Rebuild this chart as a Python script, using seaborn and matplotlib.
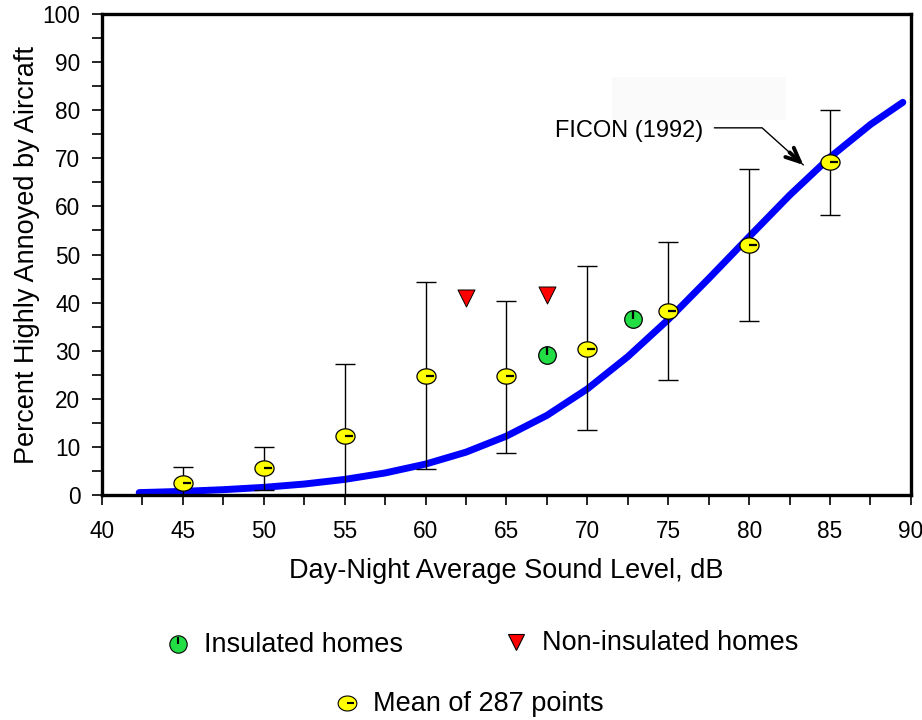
import numpy as np
import pandas as pd
import matplotlib
matplotlib.use('Agg')
import matplotlib.pyplot as plt
import seaborn as sns
from matplotlib.patches import Rectangle
from matplotlib.path import Path

sns.set_style('white')
plt.rcParams['font.family'] = ['Liberation Sans', 'DejaVu Sans']
plt.rcParams.update({'text.color': 'black', 'axes.labelcolor': 'black',
                     'xtick.color': 'black', 'ytick.color': 'black'})

# mean of 287 points, with error bars
mean_ldn = [45, 50, 55, 60, 65, 70, 75, 80, 85]
mean_pct = [2.5, 5.6, 12.3, 24.7, 24.7, 30.4, 38.2, 52.0, 69.3]
err_low = [0.0, 1.2, 0.0, 5.5, 8.7, 13.6, 24.0, 36.2, 58.3]
err_high = [5.9, 10.0, 27.3, 44.3, 40.3, 47.6, 52.5, 67.8, 80.0]

# insulated / non-insulated homes
ins_ldn = [67.5, 72.8]
ins_pct = [29.2, 36.6]
non_ldn = [62.5, 67.5]
non_pct = [41.0, 41.5]

# FICON (1992) curve
ficon_ldn = [42.3, 45, 47.5, 50, 52.5, 55, 57.5, 60, 62.5, 65, 67.5, 70,
             72.5, 75, 77.5, 80, 82.5, 85, 87.5, 89.5]
ficon_pct = [0.57, 0.83, 1.18, 1.66, 2.35, 3.31, 4.65, 6.49, 8.97, 12.3, 16.6,
             22.1, 28.8, 36.5, 45.0, 53.7, 62.3, 70.2, 77.0, 81.6]

curve = pd.DataFrame({'ldn': ficon_ldn, 'pct': ficon_pct})
means = pd.DataFrame({'ldn': mean_ldn, 'pct': mean_pct})

# slightly flattened circle, like the original symbols
t = np.linspace(0, 2 * np.pi, 41)
oval = Path(np.column_stack([np.cos(t), 0.8 * np.sin(t)]), closed=True)

fig = plt.figure(figsize=(9.22, 7.2), dpi=100)
ax = fig.add_axes([0.1106, 0.312, 0.8774, 0.669])

# faint box behind the label
ax.add_patch(Rectangle((71.5, 78.0), 10.8, 8.9, color='#fafafa', zorder=0, lw=0))

sns.lineplot(data=curve, x='ldn', y='pct', ax=ax, color='#0000ff', lw=5,
             zorder=2, legend=False)

yerr = [np.array(mean_pct) - np.array(err_low), np.array(err_high) - np.array(mean_pct)]
ax.errorbar(mean_ldn, mean_pct, yerr=yerr, fmt='none', ecolor='black',
            elinewidth=1.0, capsize=7, capthick=1.0, zorder=3)

sns.scatterplot(data=means, x='ldn', y='pct', ax=ax, marker=oval, s=190,
                color='#ffff00', edgecolor='black', linewidth=0.9, zorder=4)
ax.plot(mean_ldn, mean_pct, ls='none', marker=1, ms=6, mew=1.6, color='black', zorder=5)

sns.scatterplot(x=ins_ldn, y=ins_pct, ax=ax, marker='o', s=160,
                color='#22dd44', edgecolor='black', linewidth=0.9, zorder=4)
ax.plot(ins_ldn, ins_pct, ls='none', marker=2, ms=6, mew=1.6, color='black', zorder=5)

sns.scatterplot(x=non_ldn, y=non_pct, ax=ax, marker='v', s=150,
                color='#ff0000', edgecolor='black', linewidth=0.7, zorder=4)

# FICON label with bent leader and open arrow head
ax.text(68.0, 75.7, 'FICON (1992)', fontsize=17, va='center', ha='left')
ax.plot([77.85, 80.8, 83.35], [76.3, 76.3, 68.6], color='black', lw=1.0)
ax.annotate('', xy=(83.35, 68.6), xytext=(82.5, 71.2),
            arrowprops=dict(arrowstyle='->,head_length=1.0,head_width=0.45',
                            color='black', lw=2.8, shrinkA=0, shrinkB=0))

ax.set_xlim(40, 90)
ax.set_ylim(0, 100)
ax.set_xticks(np.arange(40, 91, 5))
ax.set_xticks(np.arange(42.5, 90, 5), minor=True)
ax.set_yticks(np.arange(0, 101, 10))
ax.set_yticks(np.arange(5, 100, 10), minor=True)
ax.tick_params(which='both', direction='out', length=7.5, width=1.2, color='black',
               bottom=True, left=True)
ax.tick_params(labelsize=16.3)
ax.tick_params(axis='x', pad=10)
ax.tick_params(axis='y', pad=8)
for s in ax.spines.values():
    s.set_linewidth(2.4)
    s.set_color('black')

ax.set_xlabel('Day-Night Average Sound Level, dB', fontsize=19.5, labelpad=11)
ax.set_ylabel('Percent Highly Annoyed by Aircraft', fontsize=19.5, labelpad=2)

# legend below the chart, laid out in pixel units on an overlay
lg = fig.add_axes([0, 0, 1, 1])
lg.set_xlim(0, 922)
lg.set_ylim(720, 0)
lg.axis('off')
entries = [
    (178, 644, 'o', '#22dd44', 2, 12.5, 'Insulated homes'),
    (516, 642, 'v', '#ff0000', None, 11.5, 'Non-insulated homes'),
    (347, 703, oval, '#ffff00', 1, 13.5, 'Mean of 287 points'),
]
for x, y, mk, col, tick, size, label in entries:
    lg.plot([x], [y], ls='none', marker=mk, ms=size, mfc=col, mec='black', mew=0.8)
    if tick is not None:
        lg.plot([x], [y], ls='none', marker=tick, ms=5, mew=1.5, color='black')
    lg.text(x + 26, y + 1, label, fontsize=19.5, va='center', ha='left')

fig.savefig('out.png', dpi=100)
plt.close()
